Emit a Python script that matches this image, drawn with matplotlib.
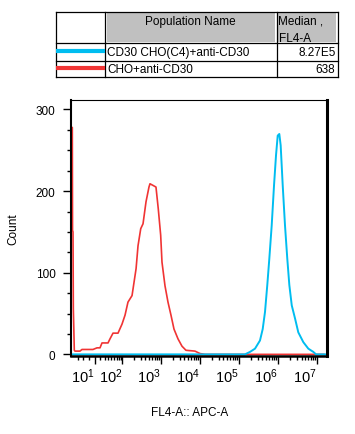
import numpy as np
import matplotlib.pyplot as plt
from matplotlib.patches import Rectangle

plt.rcParams['font.family'] = ['Liberation Sans', 'DejaVu Sans']
plt.rcParams['mathtext.fontset'] = 'custom'
plt.rcParams['mathtext.rm'] = 'Liberation Sans'

# FL4-A values (biexponential axis) and counts
red_x = [-35.5, -33.8, -33.2, -32.0, -31.2, -30.0, -28.8, -27.2, -16.5, -12.7,
         6.5, 13.8, 19.7, 24.0, 39.1, 45.1, 55.4, 76.5, 98.1, 118,
         141, 180, 229, 257, 302, 346, 413, 492, 522, 624,
         744, 853, 982, 1061, 1267, 1512, 1805, 2154, 2729, 3455,
         4375, 7443, 10000, 13440, 1.5e7]
red_y = [278, 278, 152, 150, 56, 31, 5, 4, 4, 6,
         6, 8, 8, 14, 14, 19, 26, 26, 37, 48,
         64, 72, 105, 133, 154, 160, 187, 205, 209, 207,
         205, 178, 146, 113, 84, 64, 48, 31, 19, 10,
         5, 4, 1, 0, 0]

blue_x = [-38.2, 1.42e5, 1.91e5, 2.57e5, 3.45e5, 4.05e5, 4.64e5, 5.31e5, 5.98e5,
          6.89e5, 7.90e5, 8.89e5, 9.82e5, 1.08e6, 1.17e6, 1.32e6, 1.51e6, 1.73e6,
          1.95e6, 2.25e6, 2.73e6, 3.31e6, 4.45e6, 5.98e6, 8.04e6, 9.43e6, 1.77e7]
blue_y = [0, 0, 3, 7, 17, 31, 52, 85, 117, 158, 207, 244, 268, 270, 256, 207,
          158, 117, 85, 60, 44, 27, 15, 7, 3, 0, 0]

pop_names = ['CD30 CHO(C4)+anti-CD30', 'CHO+anti-CD30']
pop_medians = ['8.27E5', '638']
pop_colors = ['#00BDF0', '#F03434']

W = 28.9  # biex linear width


def fwd(x):
    return np.arcsinh(np.asarray(x, dtype=float) / W) / np.log(10)


def inv(u):
    return W * np.sinh(np.asarray(u, dtype=float) * np.log(10))


fig = plt.figure(figsize=(3.55, 4.35), dpi=100)
ax = fig.add_axes([70.7 / 355, 1 - 357 / 435, 256 / 355, 256.3 / 435])

ax.plot(red_x, red_y, color=pop_colors[1], lw=1.2)
ax.plot(blue_x, blue_y, color=pop_colors[0], lw=1.4)

ax.set_xscale('function', functions=(fwd, inv))
ax.set_xlim(-38.2, 1.77e7)
ax.set_ylim(-2, 312)

major = [10.0 ** k for k in range(1, 8)]
minor = [-20, -10, 0] + [m * 10.0 ** k for k in range(1, 7) for m in range(2, 10)]
ax.set_xticks(major)
ax.set_xticks(minor, minor=True)
ax.set_xticklabels([r'$\mathregular{10^{%d}}$' % k for k in range(1, 8)])
for lbl in ax.get_xticklabels():
    lbl.set_ha('right')
ax.set_yticks([0, 100, 200, 300])
ax.set_yticks(np.arange(25, 312, 25), minor=True)

ax.tick_params(axis='both', which='major', length=6, width=1, labelsize=8.5,
               color='black')
ax.tick_params(axis='both', which='minor', length=3, width=1)
ax.tick_params(axis='x', pad=1.5, labelsize=10.5)
ax.tick_params(axis='y', pad=5)

for side, w in [('left', 1.5), ('bottom', 1.8), ('right', 2.2), ('top', 0.8)]:
    ax.spines[side].set_linewidth(w)

ax.set_xlabel('FL4-A:: APC-A', fontsize=8.5)
ax.set_ylabel('Count', fontsize=8.5)
ax.xaxis.set_label_coords((190 - 70.7) / 256, -0.195)
ax.yaxis.set_label_coords(-0.2, 0.5)

# population table on top
tab = fig.add_axes([0, 0, 1, 1])
tab.set_xlim(0, 355)
tab.set_ylim(435, 0)
tab.axis('off')

x0, x1, x2, x3 = 56, 105, 276.5, 337.5
y0, y1, y2, y3 = 12.5, 44.3, 61.7, 78.3
tab.add_patch(Rectangle((x1 + 1.5, y0 + 1.5), x2 - x1 - 3, y1 - y0 - 3,
                        facecolor='#C0C0C0', edgecolor='none'))
tab.add_patch(Rectangle((x2 + 1.5, y0 + 1.5), x3 - x2 - 3, y1 - y0 - 3,
                        facecolor='#C0C0C0', edgecolor='none'))
for yy in [y0, y1, y2, y3]:
    tab.plot([x0, x3], [yy, yy], color='black', lw=0.9)
for xx in [x0, x1, x2, x3]:
    tab.plot([xx, xx], [y0, y3], color='black', lw=0.9)

tab.text((x1 + x2) / 2, 21.5, 'Population Name', ha='center', va='center',
         fontsize=8.5)
tab.text(x2 + 2, 21.5, 'Median ,', ha='left', va='center', fontsize=8.5)
tab.text(x2 + 2, 39.5, 'FL4-A', ha='left', va='center', fontsize=8.5,
         clip_on=True,
         clip_path=Rectangle((x2, y0), x3 - x2, y1 - y0 - 1.5,
                             transform=tab.transData))

rows_y = [(y1 + y2) / 2, (y2 + y3) / 2]
for name, med, col, ry in zip(pop_names, pop_medians, pop_colors, rows_y):
    tab.plot([x0, x1], [ry - 0.8, ry - 0.8], color=col, lw=3, solid_capstyle='butt')
    tab.text(x1 + 2, ry, name, ha='left', va='center', fontsize=8.5)
    tab.text(x3 - 2, ry, med, ha='right', va='center', fontsize=8.5)

fig.savefig('out.png', dpi=100)
